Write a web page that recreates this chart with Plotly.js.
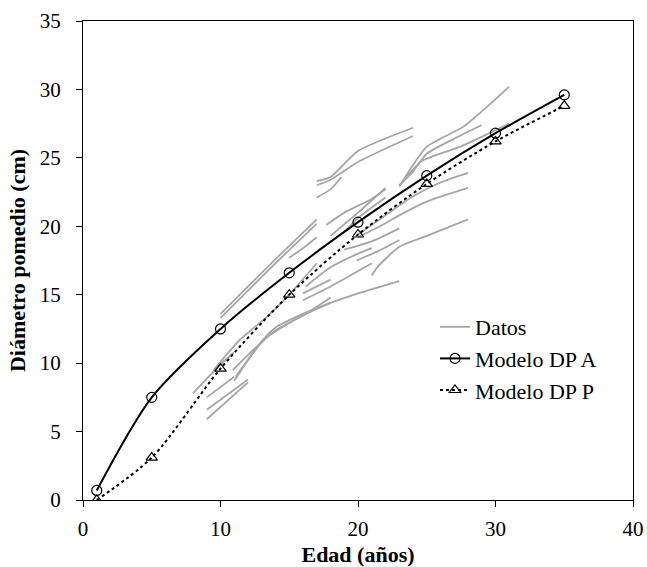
<!DOCTYPE html>
<html>
<head>
<meta charset="utf-8">
<script src="https://cdn.plot.ly/plotly-3.0.1.min.js"></script>
<style>html,body{margin:0;padding:0;background:#fff;}#chart{width:647px;height:567px;}</style>
</head>
<body>
<div id="chart"></div>
<script>
// Model curves
const edadModelo = [1, 5, 10, 15, 20, 25, 30, 35];
const dpA = [0.7, 7.5, 12.5, 16.6, 20.3, 23.7, 26.8, 29.6];
const dpP = [0.0, 3.1, 9.6, 15.0, 19.4, 23.1, 26.2, 28.8];

// Observed data (each entry = one tree/plot series)
const datosEdad = [
  [17, 18, 20, 24],
  [17, 18, 20, 24],
  [17, 18, 18.8],
  [10, 12, 14, 17],
  [10, 12, 14, 17],
  [15, 16, 17],
  [18, 20, 22],
  [17.7, 19, 21, 22],
  [20, 22, 24, 26, 28],
  [20, 21.6, 23, 25, 28],
  [21, 21.4, 23, 25, 28],
  [23, 24, 25, 27, 29],
  [23, 25, 27.7, 31],
  [23.5, 24.7, 27.4, 31],
  [19, 20, 22],
  [16.2, 18, 20, 21],
  [19, 21, 23],
  [19.9, 21.5, 23],
  [16, 18, 21],
  [11, 12.6, 14, 16, 18, 20, 23],
  [11.1, 12.9, 14, 16.2, 18],
  [10.9, 13.4, 15.8, 18],
  [9.5, 11.4, 13.4, 15, 17],
  [16, 18],
  [8, 10.2, 11],
  [9, 11],
  [9, 12],
  [9, 12]
];
const datosDiam = [
  [23.3, 23.6, 25.5, 27.2],
  [23.0, 23.4, 24.7, 26.6],
  [22.1, 22.7, 23.6],
  [13.6, 15.6, 17.6, 20.5],
  [13.3, 15.3, 17.3, 20.2],
  [17.7, 18.4, 19.2],
  [19.3, 21.0, 22.8],
  [20.1, 21.0, 22.0, 22.7],
  [19.4, 20.8, 22.2, 23.2, 23.9],
  [19.2, 20.0, 20.8, 21.8, 22.8],
  [16.4, 17.0, 18.5, 19.3, 20.5],
  [23.0, 24.0, 25.3, 26.4, 27.4],
  [22.9, 25.8, 27.3, 30.2],
  [23.6, 24.8, 25.8, 27.5],
  [19.6, 20.6, 22.1],
  [15.6, 17.0, 18.0, 18.4],
  [18.3, 18.9, 19.85],
  [17.5, 18.2, 19.0],
  [14.6, 15.6, 17.3],
  [8.7, 11.1, 12.6, 13.6, 14.4, 15.1, 16.0],
  [9.0, 11.4, 12.4, 13.6, 14.8],
  [9.5, 11.9, 13.4, 14.4],
  [9.5, 11.7, 13.4, 15.0, 17.3],
  [15.1, 16.1],
  [7.8, 10.1, 10.8],
  [7.5, 9.0],
  [6.6, 8.8],
  [5.9, 8.6]
];

// Flatten with null separators for a single legend entry
const dx = [], dy = [];
datosEdad.forEach((seg, i) => {
  seg.forEach((v, j) => { dx.push(v); dy.push(datosDiam[i][j]); });
  dx.push(null); dy.push(null);
});

const serif = '"Liberation Serif", "Times New Roman", serif';

const traces = [
  {
    x: dx, y: dy, type: 'scatter', mode: 'lines', name: 'Datos',
    line: {color: '#a6a6a6', width: 1.8, shape: 'spline', smoothing: 0.6},
    connectgaps: false
  },
  {
    x: edadModelo, y: dpA, type: 'scatter', mode: 'lines+markers', name: 'Modelo DP A',
    line: {color: '#000000', width: 2, shape: 'spline', smoothing: 0.8},
    marker: {symbol: 'circle-open', size: 10, color: '#000000', line: {width: 1.2}}
  },
  {
    x: edadModelo, y: dpP, type: 'scatter', mode: 'lines+markers', name: 'Modelo DP P',
    line: {color: '#000000', width: 2, dash: 'dot', shape: 'spline', smoothing: 0.8},
    marker: {symbol: 'triangle-up-open', size: 10, color: '#000000', line: {width: 1.2}}
  }
];

const layout = {
  width: 647, height: 567,
  margin: {l: 83, r: 14, t: 21, b: 67},
  paper_bgcolor: '#ffffff', plot_bgcolor: '#ffffff',
  font: {family: serif, size: 21, color: '#000000'},
  showlegend: true,
  legend: {
    x: 0.64, y: 0.405, xanchor: 'left', yanchor: 'top',
    bgcolor: 'rgba(0,0,0,0)', font: {family: serif, size: 22},
    itemwidth: 30, traceorder: 'normal'
  },
  xaxis: {
    range: [0, 40], dtick: 10, tick0: 0,
    showline: true, linecolor: '#000', linewidth: 1, mirror: true,
    ticks: 'outside', ticklen: 6, tickcolor: '#000',
    showgrid: false, zeroline: false,
    ticklabelstandoff: 4,
    tickfont: {family: serif, size: 21},
    title: {text: '<b>Edad (años)</b>', font: {family: serif, size: 22}, standoff: 6}
  },
  yaxis: {
    range: [0, 35], dtick: 5, tick0: 0,
    showline: true, linecolor: '#000', linewidth: 1, mirror: true,
    ticks: 'outside', ticklen: 6, tickcolor: '#000',
    showgrid: false, zeroline: false,
    ticklabelstandoff: 11,
    tickfont: {family: serif, size: 21},
    title: {text: '<b>Diámetro pomedio (cm)</b>', font: {family: serif, size: 22}, standoff: 8}
  }
};

Plotly.newPlot('chart', traces, layout, {displayModeBar: false, staticPlot: true});
</script>
</body>
</html>
